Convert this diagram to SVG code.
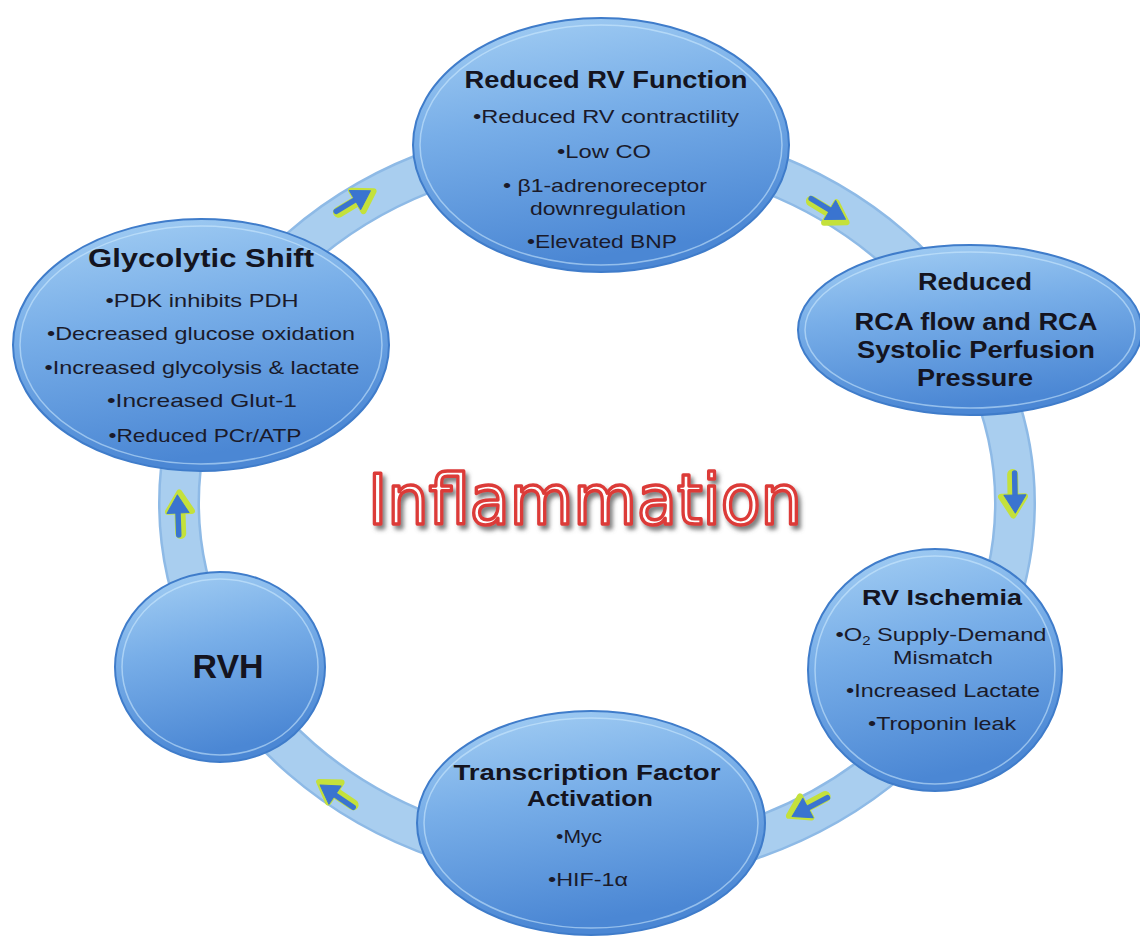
<svg xmlns="http://www.w3.org/2000/svg" width="1140" height="944" viewBox="0 0 1140 944">
<defs>
<linearGradient id="nodeGrad" x1="0" y1="0" x2="0.25" y2="1">
<stop offset="0" stop-color="#a6d0f4"/>
<stop offset="0.45" stop-color="#78aee8"/>
<stop offset="1" stop-color="#4b87d4"/>
</linearGradient>
<filter id="shadow" x="-10%" y="-30%" width="120%" height="170%">
<feDropShadow dx="3" dy="4" stdDeviation="2" flood-color="#6a6a6a" flood-opacity="0.85"/>
</filter>
<g id="arr">
<g transform="translate(1.5,2)" stroke="#c4e13b" fill="#c4e13b" stroke-linejoin="round" stroke-linecap="round">
<path d="M-22,0 L3,0" stroke-width="11" fill="none"/>
<polygon points="0,-12 19,0 0,12" stroke-width="6"/>
</g>
<path d="M-22,0 L3,0" stroke="#3a74d0" stroke-width="5.5" stroke-linecap="round"/>
<polygon points="0,-11 18,0 0,11" fill="#3a74d0" stroke="#3a74d0" stroke-width="1" stroke-linejoin="round"/>
</g>
</defs>
<style>
.node{fill:url(#nodeGrad);stroke:#3f7cca;stroke-width:2}
.rim{fill:none;stroke:#d2ecff;stroke-width:1.5;opacity:0.55}
.t{font-family:"Liberation Sans",Arial,sans-serif;font-weight:bold;fill:#141420;text-anchor:middle}
.b{font-family:"Liberation Sans",Arial,sans-serif;font-size:19px;fill:#1a1a2a;text-anchor:middle}
</style>
<rect width="1140" height="944" fill="#ffffff"/>

<g id="connectors">
<ellipse cx="597" cy="503" rx="418" ry="362" fill="none" stroke="#8ebae6" stroke-width="42"/>
<ellipse cx="597" cy="503" rx="418" ry="362" fill="none" stroke="#a9ceef" stroke-width="37"/>
<use href="#arr" transform="translate(355,200) rotate(-31)"/>
<use href="#arr" transform="translate(830,210) rotate(31)"/>
<use href="#arr" transform="translate(1015,495) rotate(89)"/>
<use href="#arr" transform="translate(808,808) rotate(152)"/>
<use href="#arr" transform="translate(335,795) rotate(214)"/>
<use href="#arr" transform="translate(178,513) rotate(-92)"/>
</g>

<g id="node-rv-function">
<ellipse class="node" cx="601" cy="145" rx="188" ry="127"/>
<ellipse class="rim" cx="601" cy="145" rx="181" ry="120"/>
<text class="t" x="606" y="88" font-size="23" textLength="283" lengthAdjust="spacingAndGlyphs">Reduced RV Function</text>
<text class="b" x="606" y="123" textLength="266" lengthAdjust="spacingAndGlyphs">•Reduced RV contractility</text>
<text class="b" x="604" y="158" textLength="94" lengthAdjust="spacingAndGlyphs">•Low CO</text>
<text class="b" x="605" y="192" textLength="204" lengthAdjust="spacingAndGlyphs">• β1-adrenoreceptor</text>
<text class="b" x="608" y="215" textLength="156" lengthAdjust="spacingAndGlyphs">downregulation</text>
<text class="b" x="602" y="248" textLength="150" lengthAdjust="spacingAndGlyphs">•Elevated BNP</text>
</g>

<g id="node-rca">
<ellipse class="node" cx="970" cy="330" rx="172" ry="85"/>
<ellipse class="rim" cx="970" cy="330" rx="165" ry="78"/>
<text class="t" x="975" y="290" font-size="23" textLength="114" lengthAdjust="spacingAndGlyphs">Reduced</text>
<text class="t" x="976" y="330" font-size="23" textLength="243" lengthAdjust="spacingAndGlyphs">RCA flow and RCA</text>
<text class="t" x="976" y="358" font-size="23" textLength="238" lengthAdjust="spacingAndGlyphs">Systolic Perfusion</text>
<text class="t" x="975" y="386" font-size="23" textLength="116" lengthAdjust="spacingAndGlyphs">Pressure</text>
</g>

<g id="node-ischemia">
<ellipse class="node" cx="935" cy="670" rx="127" ry="121"/>
<ellipse class="rim" cx="935" cy="670" rx="120" ry="114"/>
<text class="t" x="942" y="605" font-size="22" textLength="160" lengthAdjust="spacingAndGlyphs">RV Ischemia</text>
<text class="b" x="941" y="641" textLength="211" lengthAdjust="spacingAndGlyphs">•O<tspan font-size="12" dy="4">2</tspan><tspan dy="-4"> Supply-Demand</tspan></text>
<text class="b" x="943" y="664" textLength="100" lengthAdjust="spacingAndGlyphs">Mismatch</text>
<text class="b" x="943" y="697" textLength="194" lengthAdjust="spacingAndGlyphs">•Increased Lactate</text>
<text class="b" x="942" y="730" textLength="148" lengthAdjust="spacingAndGlyphs">•Troponin leak</text>
</g>

<g id="node-transcription">
<ellipse class="node" cx="591" cy="823" rx="174" ry="112"/>
<ellipse class="rim" cx="591" cy="823" rx="167" ry="105"/>
<text class="t" x="587" y="780" font-size="22" textLength="267" lengthAdjust="spacingAndGlyphs">Transcription Factor</text>
<text class="t" x="590" y="806" font-size="22" textLength="126" lengthAdjust="spacingAndGlyphs">Activation</text>
<text class="b" x="579" y="843" textLength="46" lengthAdjust="spacingAndGlyphs">•Myc</text>
<text class="b" x="588" y="886" textLength="80" lengthAdjust="spacingAndGlyphs">•HIF-1α</text>
</g>

<g id="node-rvh">
<ellipse class="node" cx="220" cy="667" rx="105" ry="95"/>
<ellipse class="rim" cx="220" cy="667" rx="98" ry="88"/>
<text class="t" x="228" y="678" font-size="34" textLength="71" lengthAdjust="spacingAndGlyphs">RVH</text>
</g>

<g id="node-glycolytic">
<ellipse class="node" cx="201" cy="345" rx="188" ry="126"/>
<ellipse class="rim" cx="201" cy="345" rx="181" ry="119"/>
<text class="t" x="201" y="267" font-size="25" textLength="226" lengthAdjust="spacingAndGlyphs">Glycolytic Shift</text>
<text class="b" x="202" y="307" textLength="193" lengthAdjust="spacingAndGlyphs">•PDK inhibits PDH</text>
<text class="b" x="201" y="340" textLength="308" lengthAdjust="spacingAndGlyphs">•Decreased glucose oxidation</text>
<text class="b" x="202" y="374" textLength="315" lengthAdjust="spacingAndGlyphs">•Increased glycolysis &amp; lactate</text>
<text class="b" x="202" y="407" textLength="190" lengthAdjust="spacingAndGlyphs">•Increased Glut-1</text>
<text class="b" x="205" y="442" textLength="193" lengthAdjust="spacingAndGlyphs">•Reduced PCr/ATP</text>
</g>

<g id="inflammation" filter="url(#shadow)">
<text x="368" y="524" font-family="'DejaVu Sans',Verdana,sans-serif" font-size="69" fill="#ffffff" stroke="#dc3a38" stroke-width="3.5" stroke-linejoin="round" textLength="434" lengthAdjust="spacingAndGlyphs">Inflammation</text>
</g>
</svg>
